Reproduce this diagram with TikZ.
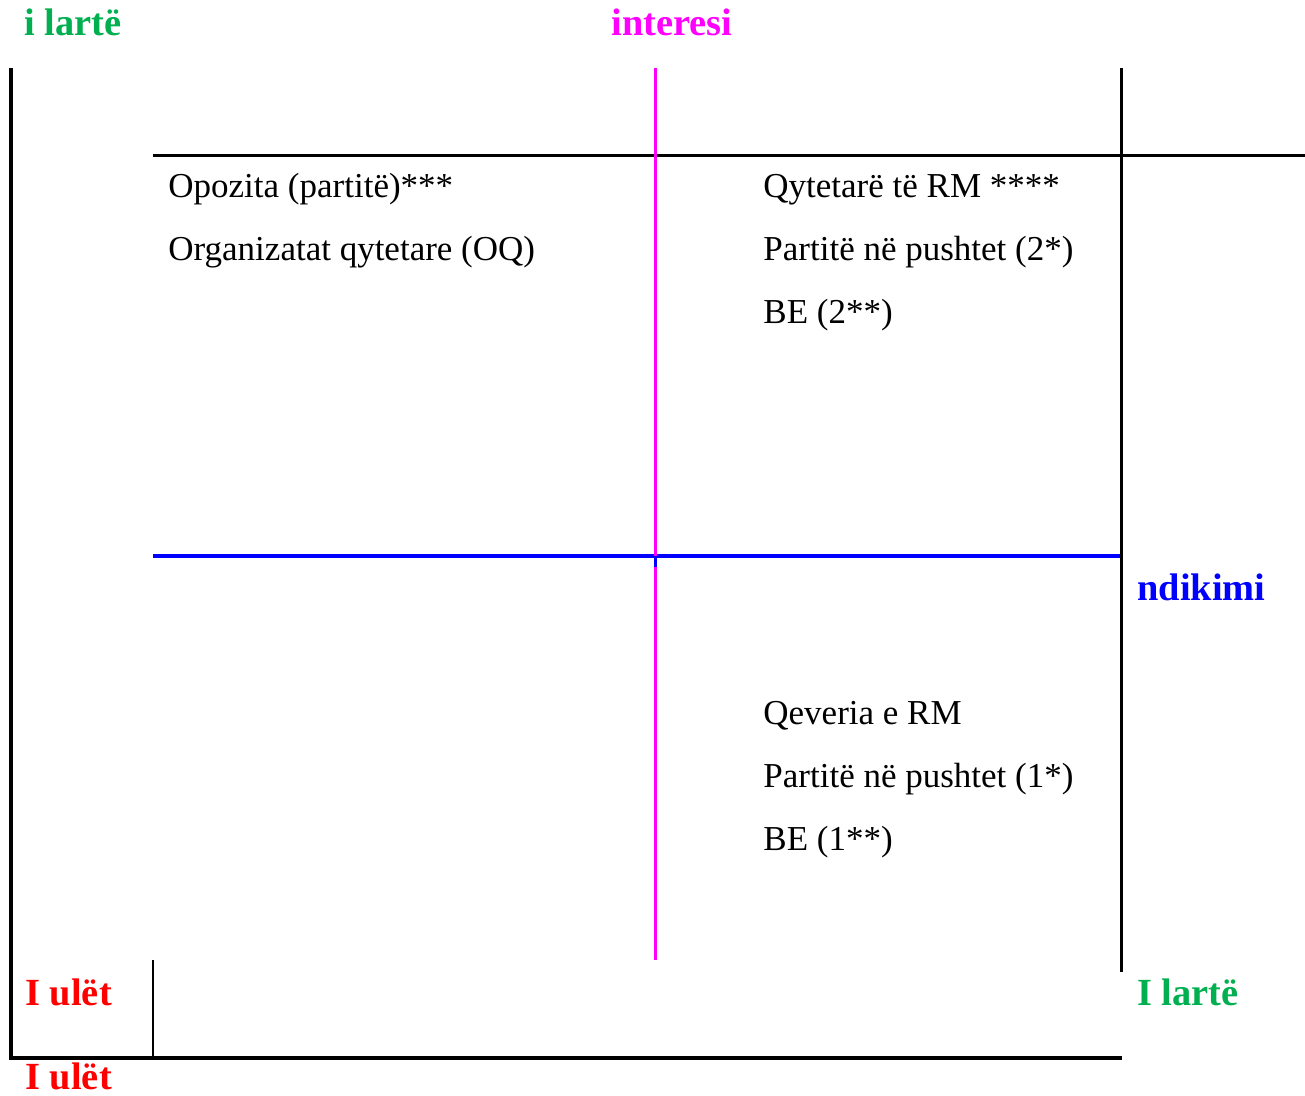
\documentclass[tikz,border=0pt]{standalone}
\usepackage{fontspec}
\setmainfont{Liberation Serif}
\definecolor{lgreen}{HTML}{00B050}
\definecolor{lmagenta}{HTML}{FF00FF}
\definecolor{lblue}{HTML}{0000FF}
\definecolor{lred}{HTML}{FF0000}
\begin{document}
\begin{tikzpicture}[x=0.5pt,y=-0.5pt]
			\tikzstyle{lab} = [inner sep=0, font=\fontsize{19.2}{23}\selectfont\bfseries]
			\tikzstyle{txt} = [inner sep=0, anchor=base west, font=\fontsize{17.5}{21}\selectfont]
			\useasboundingbox (0,0) rectangle (1305,1096);

			\node [lab,text=lgreen] (hi1) at (73,22) {i lartë};
			\node [lab,text=lmagenta] (int) at (672,22) {interesi};
			\node [lab,text=lblue,anchor=west] (ndi) at (1137,587) {ndikimi};
			\node [lab,text=lgreen,anchor=west] (hi2) at (1137,992) {I lartë};
			\node [lab,text=lred,anchor=west] (lo1) at (25,992) {I ulët};
			\node [lab,text=lred,anchor=west] (lo2) at (25,1076) {I ulët};

			\node [txt] (a1) at (168,198) {Opozita (partitë)***};
			\node [txt] (a2) at (168,261) {Organizatat qytetare (OQ)};
			\node [txt] (b1) at (763,198) {Qytetarë të RM ****};
			\node [txt] (b2) at (763,261) {Partitë në pushtet (2*)};
			\node [txt] (b3) at (763,324) {BE (2**)};
			\node [txt] (c1) at (763,724) {Qeveria e RM};
			\node [txt] (c2) at (763,787) {Partitë në pushtet (1*)};
			\node [txt] (c3) at (763,850) {BE (1**)};

			\draw [line width=2pt] (11,68) -- (11,1058);
			\draw [line width=2pt] (9,1058) -- (1122,1058);
			\draw [line width=1.2pt] (153,960) -- (153,1058);
			\draw [line width=1.5pt] (153,156) -- (1305,156);
			\draw [line width=1.5pt] (1121,68) -- (1121,972);

			\draw [line width=2pt, lblue] (153,556) -- (1120,556);
			\draw [line width=1.5pt, lmagenta] (655,68) -- (655,960);
			\draw [line width=1.5pt, lblue] (655,556) -- (655,567);

		\end{tikzpicture}
\end{document}
